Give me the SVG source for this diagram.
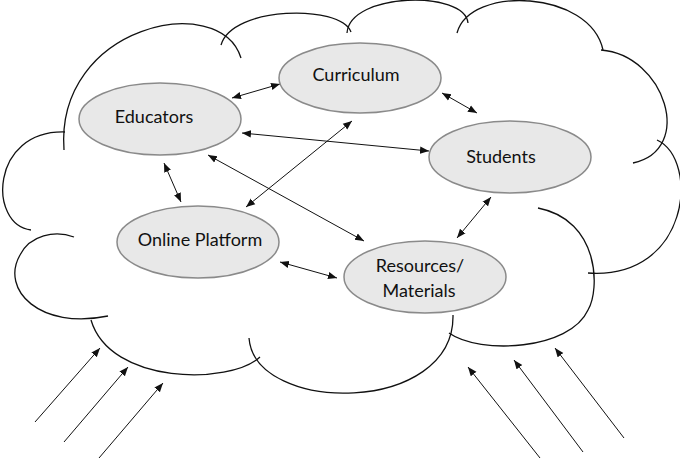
<svg xmlns="http://www.w3.org/2000/svg" width="680" height="459" viewBox="0 0 680 459">
<style>
.cloud{fill:none;stroke:#111;stroke-width:1.3}
.node{fill:#e8e8e8;stroke:#8a8a8a;stroke-width:1.5}
.lbl{font-family:Lato,"Open Sans",sans-serif;font-size:18px;fill:#111;text-anchor:middle}
.c{stroke:#111;stroke-width:1;fill:none;marker-start:url(#a);marker-end:url(#a)}
.in{stroke:#111;stroke-width:1;fill:none;marker-end:url(#a)}
</style>
<defs>
<marker id="a" viewBox="0 0 10 10" refX="10" refY="5" markerWidth="9" markerHeight="9" markerUnits="userSpaceOnUse" orient="auto-start-reverse">
<path d="M0,1 L10,5 L0,9 Z" fill="#111"/>
</marker>
</defs>
<g id="cloud">
<path class="cloud" d="M31,230 C-12,225 -10,130 65,132"/>
<path class="cloud" d="M64,150 C55,25 220,-10 241,58"/>
<path class="cloud" d="M221,45 C232,6 340,4 351,32"/>
<path class="cloud" d="M347,33 C350,-8 465,-10 468,23"/>
<path class="cloud" d="M457,33 C470,-15 590,-10 603,50"/>
<path class="cloud" d="M601,50 C665,55 695,150 633,163"/>
<path class="cloud" d="M657,140 C700,160 690,280 588,273"/>
<path class="cloud" d="M538,208 C600,220 600,290 588,310 C570,350 480,355 449,333"/>
<path class="cloud" d="M453,315 C455,415 255,415 249,338"/>
<path class="cloud" d="M260,357 C230,385 110,385 91,320"/>
<path class="cloud" d="M108,316 C40,330 0,290 20,255 C30,235 55,230 74,237"/>
</g>
<g id="connectors">
<line class="c" x1="232" y1="98" x2="280" y2="84"/>
<line class="c" x1="442" y1="93" x2="477" y2="113"/>
<line class="c" x1="242" y1="133" x2="429" y2="151"/>
<line class="c" x1="352" y1="121" x2="246" y2="207"/>
<line class="c" x1="208" y1="155" x2="364" y2="241"/>
<line class="c" x1="164" y1="163" x2="181" y2="202"/>
<line class="c" x1="491" y1="197" x2="457" y2="238"/>
<line class="c" x1="280" y1="262" x2="337" y2="278"/>
<line class="in" x1="35" y1="422" x2="100" y2="348"/>
<line class="in" x1="64" y1="442" x2="128" y2="367"/>
<line class="in" x1="99" y1="458" x2="163" y2="383"/>
<line class="in" x1="540" y1="458" x2="468" y2="367"/>
<line class="in" x1="583" y1="452" x2="514" y2="360"/>
<line class="in" x1="624" y1="438" x2="555" y2="348"/>
</g>
<g id="educators"><ellipse class="node" cx="160" cy="119" rx="81" ry="36"/><text class="lbl" x="154" y="123">Educators</text></g>
<g id="curriculum"><ellipse class="node" cx="360" cy="78" rx="81" ry="35"/><text class="lbl" x="356" y="81">Curriculum</text></g>
<g id="students"><ellipse class="node" cx="510" cy="157" rx="81" ry="36"/><text class="lbl" x="501" y="163">Students</text></g>
<g id="online"><ellipse class="node" cx="198" cy="242" rx="81" ry="36"/><text class="lbl" x="200" y="246">Online Platform</text></g>
<g id="resources"><ellipse class="node" cx="425" cy="277" rx="81" ry="36"/><text class="lbl" x="420" y="272">Resources/</text><text class="lbl" x="419" y="297">Materials</text></g>
</svg>
